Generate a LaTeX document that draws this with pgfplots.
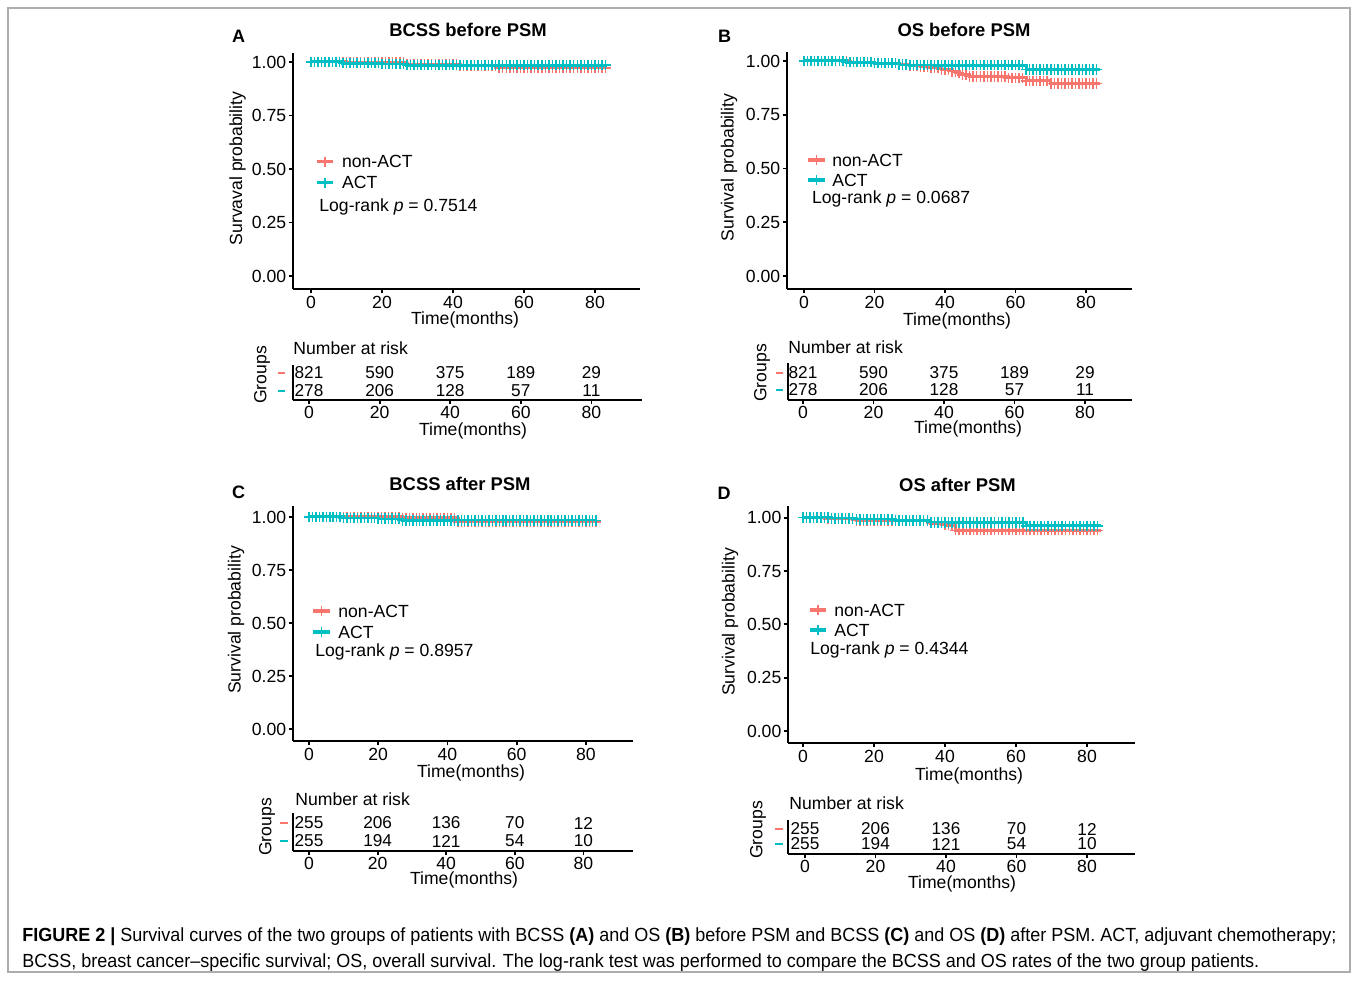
\documentclass[border=0pt]{standalone}
\usepackage{fontspec}
\setmainfont{Liberation Sans}
\usepackage{pgfplots}
\usepackage{pgfplotstable}
\pgfplotsset{compat=1.18}
\definecolor{nact}{HTML}{F8766D}
\definecolor{act}{HTML}{00BFC4}
\newcommand\ft{\fontsize{8.8}{10}\selectfont}
\newcommand\fn{\fontsize{8.6}{10}\selectfont}

% censoring marks (month, survival of each curve)
\pgfplotstableread{
x ar at br bt cr ct dr dt
0 1 1 1 1 1 1 1 1
1 1 1 1 1 1 1 1 1
2 1 1 1 1 1 1 1 1
3 1 1 1 1 1 1 1 1
4 1 1 1 1 1 1 1 1
5 1 1 1 1 1 1 1 1
6 1 1 1 1 1 1 1 1
7 1 1 1 1 1 1 .994 1
8 1 1 1 1 1 1 .994 .996
9 1 .995 1 1 1 1 .994 .996
10 .998 .995 1 1 1 .996 .994 .996
11 .998 .995 1 1 1 .996 .994 .996
12 .998 .995 1 .995 1 .996 .994 .996
13 .998 .995 .995 .995 1 .996 .994 .996
14 .998 .995 .995 .995 1 .996 .994 .996
15 .998 .995 .995 .995 1 .996 .986 .992
16 .998 .995 .995 .995 1 .996 .986 .992
17 .998 .995 .995 .995 1 .996 .986 .992
18 .998 .995 .995 .995 1 .996 .986 .992
19 .998 .995 .995 .995 1 .996 .986 .992
20 .998 .991 .99 .99 1 .992 .986 .992
21 .998 .991 .99 .99 1 .992 .986 .992
22 .998 .991 .99 .99 1 .992 .986 .992
23 .998 .991 .99 .99 1 .992 .986 .992
24 .998 .991 .99 .99 1 .992 .986 .992
25 .998 .991 .99 .99 1 .992 .986 .992
26 .998 .991 .99 .99 1 .992 .986 .986
27 .99 .985 .985 .984 .996 .984 .986 .986
28 .99 .985 .985 .984 .996 .984 .986 .986
29 .99 .985 .985 .984 .996 .984 .986 .986
30 .99 .985 .979 .981 .996 .984 .986 .986
31 .99 .985 .979 .981 .996 .984 .986 .986
32 .99 .985 .979 .981 .996 .984 .986 .986
33 .99 .985 .974 .981 .996 .984 .986 .986
34 .99 .985 .974 .981 .996 .984 .986 .986
35 .99 .985 .974 .981 .996 .984 .986 .986
36 .99 .985 .968 .981 .996 .984 .975 .977
37 .99 .985 .968 .981 .996 .984 .975 .977
38 .99 .985 .968 .981 .996 .984 .975 .977
39 .99 .985 .961 .981 .996 .984 .975 .977
40 .99 .985 .961 .981 .996 .984 .965 .977
41 .99 .985 .961 .981 .996 .984 .965 .977
42 .983 .985 .952 .981 .996 .984 .965 .977
43 .983 .985 .952 .981 .977 .984 .941 .977
44 .983 .985 .943 .981 .977 .984 .941 .977
45 .983 .985 .935 .981 .977 .984 .941 .977
46 .983 .985 .935 .981 .977 .984 .941 .977
47 .983 .985 .927 .981 .977 .984 .941 .977
48 .983 .985 .927 .981 .977 .984 .941 .977
49 .983 .985 .927 .981 .977 .984 .941 .977
50 .983 .985 .927 .981 .977 .984 .941 .977
51 .983 .985 .927 .981 .977 .984 .941 .977
52 .983 .985 .927 .981 .977 .984 .941 .977
53 .973 .985 .927 .981 .977 .984 .941 .977
54 .973 .985 .927 .981 .977 .984 .941 .977
55 .973 .985 .927 .981 .977 .984 .941 .977
56 .973 .985 .927 .981 .977 .984 .941 .977
57 .973 .985 .927 .981 .977 .984 .941 .977
58 .973 .985 .922 .981 .977 .984 .941 .977
59 .973 .985 .922 .981 .977 .984 .941 .977
60 .973 .985 .922 .981 .977 .984 .941 .977
61 .973 .985 .922 .981 .977 .984 .941 .977
62 .973 .985 .922 .981 .977 .984 .941 .977
63 .973 .985 .908 .961 .977 .984 .941 .962
64 .973 .985 .908 .961 .977 .984 .941 .962
65 .973 .985 .908 .961 .977 .984 .941 .962
66 .973 .985 .908 .961 .977 .984 .941 .962
67 .973 .985 .908 .961 .977 .984 .941 .962
68 .973 .985 .908 .961 .977 .984 .941 .962
69 .973 .985 .908 .961 .977 .984 .941 .962
70 .973 .985 .896 .961 .977 .984 .941 .962
71 .973 .985 .896 .961 .977 .984 .941 .962
72 .973 .985 .896 .961 .977 .984 .941 .962
73 .973 .985 .896 .961 .977 .984 .941 .962
74 .973 .985 .896 .961 .977 .984 .941 .962
75 .973 .985 .896 .961 .977 .984 .941 .962
76 .973 .985 .896 .961 .977 .984 .941 .962
77 .973 .985 .896 .961 .977 .984 .941 .962
78 .973 .985 .896 .961 .977 .984 .941 .962
79 .973 .985 .896 .961 .977 .984 .941 .962
80 .973 .985 .896 .961 .977 .984 .941 .962
81 .973 .985 .896 .961 .977 .984 .941 .962
82 .973 .985 .896 .961 .977 .984 .941 .962
83 .973 .985 .896 .961 .977 .984 .941 .962
}\cens

\pgfplotsset{
  kmbase/.style={anchor=origin, clip=false,
    axis lines*=left, axis line style={line width=0.9pt, black},
    tick style={line width=0.9pt, black}, major tick length=2.2pt, tick align=outside,
    xtick={0,20,40,60,80}, /pgf/number format/assume math mode=true,
    ticklabel style={font=\ft, inner sep=1pt}},
  km/.style={kmbase, ytick={0,0.25,0.5,0.75,1}, yticklabels={0.00,0.25,0.50,0.75,1.00}},
  risk/.style={kmbase, ymin=0, ytick=\empty, xticklabel style={inner sep=0.5pt}},
  kmline/.style={const plot, line width=1.5pt},
  cm/.style={only marks, mark=+, mark size=2.6pt, mark options={line width=0.75pt}},
}
\tikzset{rn/.style={font=\fn, inner sep=0pt}}

\begin{document}
\begin{tikzpicture}
\useasboundingbox (0,0) rectangle (679pt,490pt);

% ---- A: BCSS before PSM
\begin{axis}[km, at={(155.5pt,352pt)}, x=1.775pt, y=107pt, xmin=-5.07, xmax=92.7, ymin=-0.061, ymax=1.042]
\addplot[kmline, nact] coordinates {(0,1)(10,0.998)(27,0.99)(42,0.983)(53,0.973)(83.5,0.973)};
\addplot[cm, nact] table[x=x, y=ar] {\cens};
\addplot[kmline, act] coordinates {(0,1)(9,0.995)(20,0.991)(27,0.985)(83.5,0.985)};
\addplot[cm, act] table[x=x, y=at] {\cens};
\end{axis}
\begin{axis}[risk, at={(154.5pt,290pt)}, x=1.765pt, y=8pt, xmin=-4.53, xmax=94.3, ymax=2.19]
\addplot[draw=none] coordinates {(0,1)};
\node[rn] at (axis cs:0,1.69) {821}; \node[rn] at (axis cs:20,1.69) {590};
\node[rn] at (axis cs:40,1.69) {375}; \node[rn] at (axis cs:60,1.69) {189};
\node[rn] at (axis cs:80,1.69) {29};
\node[rn] at (axis cs:0,0.56) {278}; \node[rn] at (axis cs:20,0.56) {206};
\node[rn] at (axis cs:40,0.56) {128}; \node[rn] at (axis cs:60,0.56) {57};
\node[rn] at (axis cs:80,0.56) {11};
\end{axis}

% ---- B: OS before PSM
\begin{axis}[km, at={(402pt,352pt)}, x=1.7625pt, y=107.5pt, xmin=-4.82, xmax=93.0, ymin=-0.0605, ymax=1.042]
\addplot[kmline, nact] coordinates {(0,1)(13,0.995)(20,0.99)(27,0.985)(30,0.979)(33,0.974)(36,0.968)(39,0.961)(42,0.952)(44,0.943)(45,0.935)(47,0.927)(58,0.922)(63,0.908)(70,0.896)(84,0.896)};
\addplot[cm, nact] table[x=x, y=br] {\cens};
\addplot[kmline, act] coordinates {(0,1)(12,0.995)(20,0.99)(27,0.984)(30,0.981)(63,0.961)(84,0.961)};
\addplot[cm, act] table[x=x, y=bt] {\cens};
\end{axis}
\begin{axis}[risk, at={(401.5pt,290pt)}, x=1.7625pt, y=8pt, xmin=-4.26, xmax=93.3, ymax=2.31]
\addplot[draw=none] coordinates {(0,1)};
\node[rn] at (axis cs:0,1.69) {821}; \node[rn] at (axis cs:20,1.69) {590};
\node[rn] at (axis cs:40,1.69) {375}; \node[rn] at (axis cs:60,1.69) {189};
\node[rn] at (axis cs:80,1.69) {29};
\node[rn] at (axis cs:0,0.625) {278}; \node[rn] at (axis cs:20,0.625) {206};
\node[rn] at (axis cs:40,0.625) {128}; \node[rn] at (axis cs:60,0.625) {57};
\node[rn] at (axis cs:80,0.625) {11};
\end{axis}

% ---- C: BCSS after PSM
\begin{axis}[km, at={(154.5pt,125.5pt)}, x=1.73pt, y=106pt, xmin=-4.62, xmax=93.6, ymin=-0.057, ymax=1.052]
\addplot[kmline, nact] coordinates {(0,1)(27,0.996)(43,0.977)(83,0.977)};
\addplot[cm, nact] table[x=x, y=cr] {\cens};
\addplot[kmline, act] coordinates {(0,1)(10,0.996)(20,0.992)(27,0.984)(83,0.984)};
\addplot[cm, act] table[x=x, y=ct] {\cens};
\end{axis}
\begin{axis}[risk, at={(154.5pt,64.5pt)}, x=1.715pt, y=9pt, xmin=-4.66, xmax=94.5, ymax=2.11]
\addplot[draw=none] coordinates {(0,1)};
\node[rn] at (axis cs:0,1.556) {255}; \node[rn] at (axis cs:20,1.556) {206};
\node[rn] at (axis cs:40,1.556) {136}; \node[rn] at (axis cs:60,1.556) {70};
\node[rn] at (axis cs:80,1.556) {12};
\node[rn] at (axis cs:0,0.556) {255}; \node[rn] at (axis cs:20,0.556) {194};
\node[rn] at (axis cs:40,0.556) {121}; \node[rn] at (axis cs:60,0.556) {54};
\node[rn] at (axis cs:80,0.556) {10};
\end{axis}

% ---- D: OS after PSM
\begin{axis}[km, at={(401.5pt,124.5pt)}, x=1.775pt, y=106.65pt, xmin=-4.2, xmax=93.5, ymin=-0.056, ymax=1.056]
\addplot[kmline, nact] coordinates {(0,1)(7,0.994)(15,0.986)(36,0.975)(40,0.965)(43,0.941)(84,0.941)};
\addplot[cm, nact] table[x=x, y=dr] {\cens};
\addplot[kmline, act] coordinates {(0,1)(8,0.996)(15,0.992)(26,0.986)(36,0.977)(63,0.962)(84,0.962)};
\addplot[cm, act] table[x=x, y=dt] {\cens};
\end{axis}
\begin{axis}[risk, at={(402.5pt,63pt)}, x=1.7625pt, y=7.5pt, xmin=-4.82, xmax=93.6, ymax=2.27]
\addplot[draw=none] coordinates {(0,1)};
\node[rn] at (axis cs:0,1.667) {255}; \node[rn] at (axis cs:20,1.667) {206};
\node[rn] at (axis cs:40,1.667) {136}; \node[rn] at (axis cs:60,1.667) {70};
\node[rn] at (axis cs:80,1.667) {12};
\node[rn] at (axis cs:0,0.667) {255}; \node[rn] at (axis cs:20,0.667) {194};
\node[rn] at (axis cs:40,0.667) {121}; \node[rn] at (axis cs:60,0.667) {54};
\node[rn] at (axis cs:80,0.667) {10};
\end{axis}

% ---- texts, in pixel coordinates of the page
\begin{scope}[x=0.5pt, y=-0.5pt, yshift=490pt, every node/.style={font=\ft, inner sep=0pt}]
\draw[gray!65, line width=0.7pt] (8,8) rectangle (1350,972);
% panel letters and titles
\foreach \l/\px/\py in {A/238.5/36, B/724.5/36, C/238.5/492, D/724/493}
  \node[font=\fontsize{9}{10}\selectfont\bfseries] at (\px,\py) {\l};
\node[font=\fontsize{9.2}{10}\selectfont\bfseries] at (468,30) {BCSS before PSM};
\node[font=\fontsize{9.2}{10}\selectfont\bfseries] at (964,30) {OS before PSM};
\node[font=\fontsize{9.2}{10}\selectfont\bfseries] at (460,484) {BCSS after PSM};
\node[font=\fontsize{9.2}{10}\selectfont\bfseries] at (957.5,485) {OS after PSM};
% axis titles
\node[rotate=90] at (237.5,168.5) {Survaval probability};
\node[rotate=90] at (729,167.5) {Survival probability};
\node[rotate=90] at (236,620) {Survival probability};
\node[rotate=90] at (730,622) {Survival probability};
\node at (465,320) {Time(months)};
\node at (957,321) {Time(months)};
\node at (471,773) {Time(months)};
\node at (969,776) {Time(months)};
% legends
\foreach \xa/\xb/\ya/\yb/\xt in {316.7/333.3/161.7/182.7/341.7, 808/825/160/180/832, 313/330/611/632/338, 810/826/610/630/834}{
  \draw[nact, line width=1.8pt] (\xa,\ya) -- (\xb,\ya);
  \draw[nact, line width=0.75pt] ({(\xa+\xb)/2},\ya-5) -- ({(\xa+\xb)/2},\ya+5);
  \draw[act, line width=1.8pt] (\xa,\yb) -- (\xb,\yb);
  \draw[act, line width=0.75pt] ({(\xa+\xb)/2},\yb-5) -- ({(\xa+\xb)/2},\yb+5);
  \node[anchor=west] at (\xt,\ya) {non-ACT};
  \node[anchor=west] at (\xt,\yb) {ACT};
}
\node[anchor=west] at (319,206.7) {Log-rank \textit{p} = 0.7514};
\node[anchor=west] at (811.7,199) {Log-rank \textit{p} = 0.0687};
\node[anchor=west] at (315,652) {Log-rank \textit{p} = 0.8957};
\node[anchor=west] at (810,650) {Log-rank \textit{p} = 0.4344};
% risk tables
\node[anchor=west] at (293,348) {Number at risk};
\node[anchor=west] at (788,347) {Number at risk};
\node[anchor=west] at (295,799) {Number at risk};
\node[anchor=west] at (789,803) {Number at risk};
\node[rotate=90] at (262,375) {Groups};
\node[rotate=90] at (762,373) {Groups};
\node[rotate=90] at (267,827) {Groups};
\node[rotate=90] at (758,830) {Groups};
\foreach \xa/\xb/\ya/\yb in {278/285/373/391, 776/783/373/390, 280/288/823/841, 775/783/829/844}{
  \draw[nact, line width=0.6pt] (\xa,\ya) -- (\xb,\ya);
  \draw[act, line width=0.6pt] (\xa,\yb) -- (\xb,\yb);
}
\node at (473,431) {Time(months)};
\node at (968,429) {Time(months)};
\node at (464,880) {Time(months)};
\node at (962,884) {Time(months)};
% caption
\node[anchor=base west, font=\fontsize{9.5}{11}\selectfont] at (22,941) {\scalebox{0.947}[1]{\textbf{FIGURE 2 |} Survival curves of the two groups of patients with BCSS \textbf{(A)} and OS \textbf{(B)} before PSM and BCSS \textbf{(C)} and OS \textbf{(D)} after PSM. ACT, adjuvant chemotherapy;}};
\node[anchor=base west, font=\fontsize{9.5}{11}\selectfont] at (22,967) {\scalebox{0.947}[1]{BCSS, breast cancer–specific survival; OS, overall survival. The log-rank test was performed to compare the BCSS and OS rates of the two group patients.}};
\end{scope}
\end{tikzpicture}
\end{document}
